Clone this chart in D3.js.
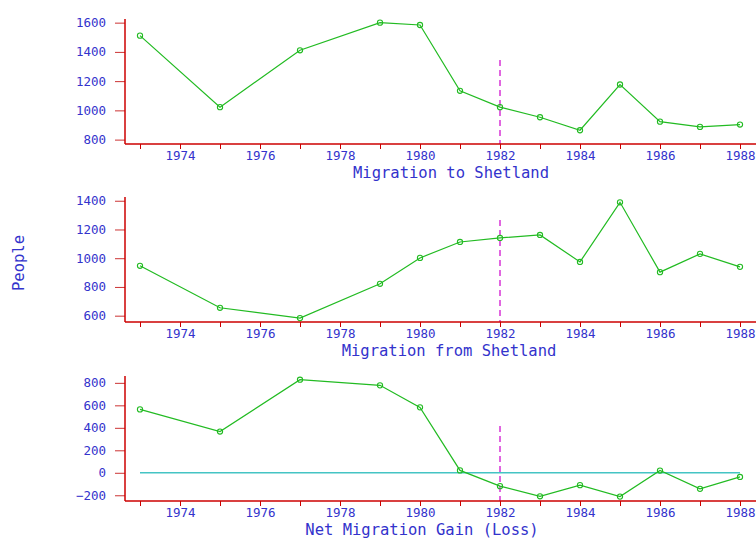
<!DOCTYPE html>
<html>
<head>
<meta charset="utf-8">
<script src="https://cdn.jsdelivr.net/npm/d3@7"></script>
<style>
  body { margin: 0; background: #fff; }
  text { font-family: "DejaVu Sans Mono", monospace; fill: #3333cc; }
</style>
</head>
<body>
<svg width="756" height="542"></svg>
<script>
const years = [1973, 1975, 1977, 1979, 1980, 1981, 1982, 1983, 1984, 1985, 1986, 1987, 1988];
const toShetland = [1511, 1022, 1411, 1600, 1584, 1134, 1022, 953, 864, 1177, 923, 887, 903];
const fromShetland = [947, 655, 583, 822, 1002, 1113, 1141, 1162, 974, 1389, 903, 1030, 940];
const netGain = [564, 367, 828, 778, 582, 21, -119, -209, -110, -212, 20, -143, -37];
const yearTicks = d3.range(1973, 1989);
const markerYear = 1982;

const panels = [
  { title: "Migration to Shetland", values: toShetland, domain: [770, 1625], range: [144, 19],
    ticks: [800, 1000, 1200, 1400, 1600], titleX: 451, titleY: 178, dashTop: 60 },
  { title: "Migration from Shetland", values: fromShetland, domain: [556, 1426], range: [322, 197],
    ticks: [600, 800, 1000, 1200, 1400], titleX: 449, titleY: 356, dashTop: 220 },
  { title: "Net Migration Gain (Loss)", values: netGain, domain: [-251, 861], range: [501, 376],
    ticks: [-200, 0, 200, 400, 600, 800], titleX: 422, titleY: 535, dashTop: 426, zero: true }
];

const svg = d3.select("svg");
const x = d3.scaleLinear().domain([1973, 1988]).range([140, 740]);
const axisLeft = 125, axisRight = 756;

panels.forEach(p => {
  const y = d3.scaleLinear().domain(p.domain).range(p.range);
  const g = svg.append("g");
  const bottom = p.range[0];

  // zero line for the net panel
  if (p.zero) {
    g.append("line")
      .attr("x1", x(1973)).attr("x2", x(1988))
      .attr("y1", y(0)).attr("y2", y(0))
      .attr("stroke", "#44c4c4").attr("stroke-width", 1.5);
  }

  // dashed 1982 marker
  g.append("line")
    .attr("x1", x(markerYear)).attr("x2", x(markerYear))
    .attr("y1", p.dashTop).attr("y2", bottom)
    .attr("stroke", "#cc00cc").attr("stroke-width", 1.2)
    .attr("stroke-dasharray", "6,4");

  // axes
  const xa = g.append("g").attr("transform", `translate(0,${bottom})`)
    .call(d3.axisBottom(x).tickValues(yearTicks)
      .tickFormat(d => d % 2 === 0 ? d : "")
      .tickSize(5).tickPadding(2).tickSizeOuter(0));
  xa.select(".domain").remove();
  xa.selectAll("line").attr("stroke", "#cc0000");
  xa.selectAll("text").filter(function () { return this.textContent === ""; }).remove();
  xa.selectAll("text").attr("font-size", 12.5).attr("fill", "#3333cc")
    .attr("font-family", "DejaVu Sans Mono");

  const ya = g.append("g").attr("transform", `translate(${axisLeft},0)`)
    .call(d3.axisLeft(y).tickValues(p.ticks).tickFormat(d3.format("d"))
      .tickSize(10).tickPadding(9).tickSizeOuter(0));
  ya.select(".domain").remove();
  ya.selectAll("line").attr("stroke", "#cc3333");
  ya.selectAll("text").attr("font-size", 12.5).attr("fill", "#3333cc")
    .attr("font-family", "DejaVu Sans Mono");

  g.append("line").attr("x1", axisLeft).attr("x2", axisLeft)
    .attr("y1", p.range[1]).attr("y2", bottom).attr("stroke", "#cc0000").attr("stroke-width", 1.5);
  g.append("line").attr("x1", axisLeft).attr("x2", axisRight)
    .attr("y1", bottom).attr("y2", bottom).attr("stroke", "#cc0000").attr("stroke-width", 1.5);

  // series
  const line = d3.line().x((d, i) => x(years[i])).y(d => y(d));
  g.append("path").datum(p.values)
    .attr("d", line).attr("fill", "none")
    .attr("stroke", "#22bb22").attr("stroke-width", 1.2);
  g.selectAll("circle").data(p.values).enter().append("circle")
    .attr("cx", (d, i) => x(years[i])).attr("cy", d => y(d)).attr("r", 2.6)
    .attr("fill", "none").attr("stroke", "#22bb22").attr("stroke-width", 1.1);

  g.append("text").attr("x", p.titleX).attr("y", p.titleY)
    .attr("text-anchor", "middle").attr("font-size", 15.5).text(p.title);
});

svg.append("text")
  .attr("transform", "translate(24,263) rotate(-90)")
  .attr("text-anchor", "middle").attr("font-size", 15.5).text("People");
</script>
</body>
</html>
